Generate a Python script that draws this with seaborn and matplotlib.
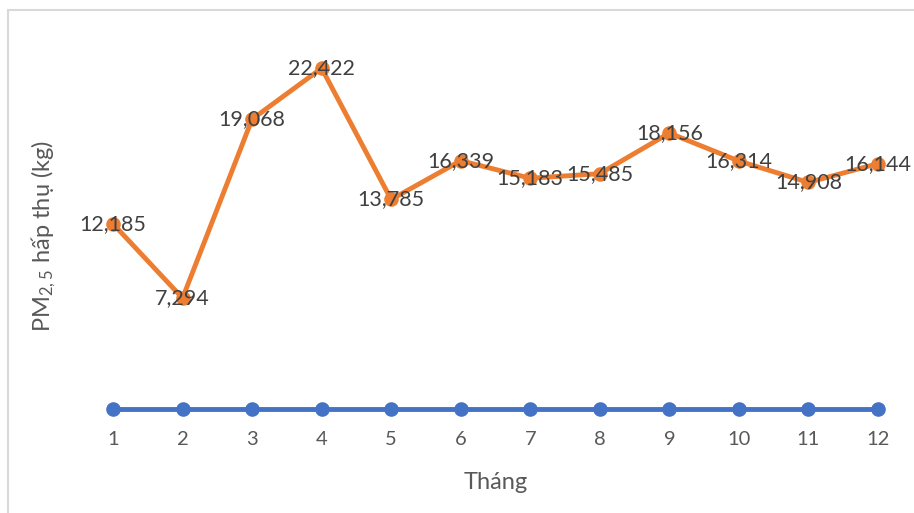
import numpy as np
import pandas as pd
import matplotlib
matplotlib.use("Agg")
import matplotlib.pyplot as plt
import seaborn as sns
from matplotlib.patches import Rectangle

# Data
months = [1, 2, 3, 4, 5, 6, 7, 8, 9, 10, 11, 12]
pm25_absorbed = [12.185, 7.294, 19.068, 22.422, 13.785, 16.339,
                 15.183, 15.485, 18.156, 16.314, 14.908, 16.144]
baseline = [0, 0, 0, 0, 0, 0, 0, 0, 0, 0, 0, 0]

df = pd.DataFrame({"month": months, "pm25": pm25_absorbed, "base": baseline})

sns.set_theme(style="white")
plt.rcParams["font.family"] = ["Lato", "DejaVu Sans"]
plt.rcParams["mathtext.default"] = "regular"

blue = "#4472C4"
orange = "#ED7D31"
text_grey = "#595959"
label_grey = "#404040"

fig = plt.figure(figsize=(9.14, 5.13), dpi=100)
ax = fig.add_axes([0.0856, 0.2027, 0.913, 0.7407])

sns.lineplot(data=df, x="month", y="base", ax=ax, color=blue, linewidth=3.5,
             marker="o", markersize=10.5, markeredgewidth=0, clip_on=False, zorder=3)
sns.lineplot(data=df, x="month", y="pm25", ax=ax, color=orange, linewidth=3.5,
             marker="o", markersize=10.5, markeredgewidth=0, clip_on=False, zorder=3)

# Data labels centred on the points (comma decimal)
for m, v in zip(months, pm25_absorbed):
    ax.text(m, v, f"{v:.3f}".replace(".", ","), ha="center", va="center",
            fontsize=15.5, color=label_grey, zorder=5)

ax.set_xlim(0.5, 12.5)
ax.set_ylim(0, 25)
ax.set_xticks(months)
ax.set_xticklabels([str(m) for m in months])
ax.set_yticks([])
ax.tick_params(axis="x", length=0, pad=16, labelsize=14.5, labelcolor=text_grey)
for s in ax.spines.values():
    s.set_visible(False)

ax.set_xlabel("Tháng", fontsize=17, color=text_grey, labelpad=17)
ax.set_ylabel("PM$_{2,5}$ hấp thụ (kg)", fontsize=17, color=text_grey)
ax.yaxis.set_label_coords(-0.024, 0.455)

# Light chart border like the original export
fig.patches.append(Rectangle((8 / 914, -0.1), 1.2, (513 - 9.5) / 513 + 0.1,
                             transform=fig.transFigure, fill=False,
                             edgecolor="#D9D9D9", linewidth=1.5))

plt.savefig("out.png", dpi=100)
